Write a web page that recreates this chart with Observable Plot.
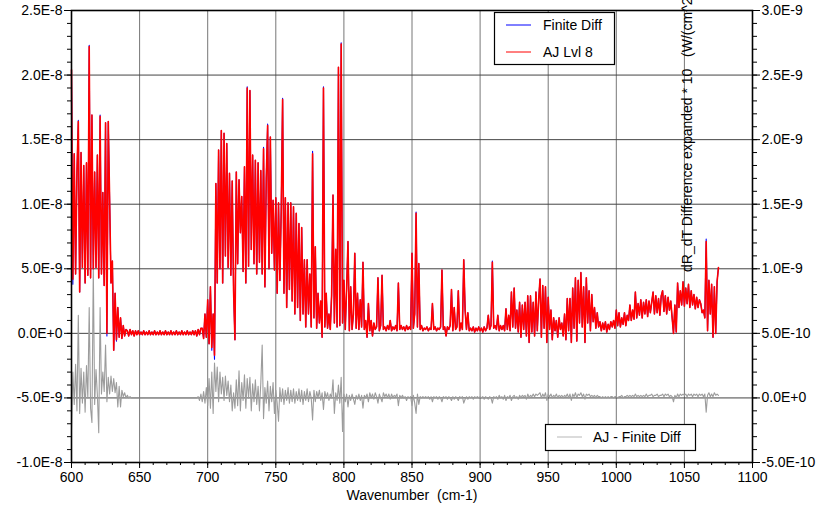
<!DOCTYPE html>
<html><head><meta charset="utf-8">
<script src="https://cdn.jsdelivr.net/npm/d3@7"></script>
<script src="https://cdn.jsdelivr.net/npm/@observablehq/plot@0.6"></script>
<style>body{margin:0;background:#fff;} #chart{width:834px;height:505px;overflow:hidden;}</style>
</head><body><div id="chart"></div>
<script>
// Wavenumber grid (cm-1): first sample and spacing
const wavenumberStart = 600;
const wavenumberStep = 1;

// AJ Lvl 8 (units of 1E-9, left axis)
const ajLvl8 = [
20.4,4.2,13.9,4.6,12.4,16.4,3.2,14.0,5.1,13.0,
3.9,13.2,4.5,22.2,4.3,16.9,5.0,12.5,5.1,13.8,
4.3,16.8,4.6,10.9,3.7,16.3,0,16.4,10.3,3.9,
5.6,-1.3,3.1,-0.5,2.0,-0.3,1.2,-0.4,0.6,-0.2,
0.3,0.2,-0.2,0.3,-0.1,0.2,-0.2,0.2,-0.1,0.2,
-0.1,0.1,-0.1,0.2,-0.1,0.1,-0.1,0.2,-0.1,0.1,
-0.1,0.2,-0.1,0.1,-0.1,0.2,-0.1,0.1,-0.1,0.2,
-0.1,0.1,-0.1,0.2,-0.1,0.1,-0.1,0.2,-0.1,0.1,
-0.1,0.2,-0.1,0.1,-0.1,0.2,-0.1,0.1,-0.1,0.2,
-0.1,0.2,-0.2,0.3,-0.1,0.4,0.4,-0.4,1.5,-0.3,
2.6,-0.8,3.6,-1.1,1.5,-1.7,11.6,3.9,14.2,5.0,
15.7,3.9,15.5,6.0,14.7,5.1,12.4,4.5,11.8,3.3,
-0.5,12.5,5.4,11.9,7.8,10.6,4.8,12.9,3.9,19.0,
5.2,18.8,6.5,13.8,5.4,13.4,4.6,13.2,5.5,12.6,
4.6,14.3,3.6,12.0,16.1,5.0,15.2,6.2,10.3,4.9,
10.5,3.1,10.1,4.1,9.6,18.1,3.1,10.5,2.0,10.1,
3.4,10.1,2.5,9.8,1.5,9.3,2.0,8.5,1.0,8.2,
1.5,5.7,0.5,5.7,1.5,4.6,0.5,13.9,1.2,6.7,
0.4,3.1,0.8,2.5,-0.3,19.0,0.5,3.1,0.4,1.5,
0.3,3.0,10.7,0.8,6.5,0.5,20.6,0.6,22.4,0.8,
4.1,0.3,3.5,7.1,0.2,3.6,0.3,1.5,6.2,0.4,
3.1,0.3,2.6,0.5,5.5,0.3,1.0,-0.3,2.3,0.2,
1.0,-0.2,0.8,0.3,0.5,4.3,0.2,0.6,4.5,0.3,
0.5,0.2,0.6,0.3,1.0,0.2,0.5,0.3,0.6,0.2,
3.9,0.3,0.6,0.3,0.5,0.2,0.6,0.3,0.5,0.3,
6.2,0.4,1.5,9.3,0.5,5.4,0.3,0.6,0.2,0.4,
0.3,0.5,0.2,0.4,0.3,2.3,0.3,0.5,0.2,0.4,
0.3,0.5,4.9,0.3,0.5,-0.2,0.5,0.3,0.6,3.4,
0.2,2.0,0.3,0.5,3.3,0.2,0.8,0.3,5.7,1.8,
0.3,1.6,0.2,0.4,0.2,0.5,0.1,0.4,0.2,0.5,
0.2,0.4,0.1,0.5,0.2,0.4,1.4,0.3,0.6,5.5,
0.4,0.6,0.3,1.4,0.2,0.6,0.3,0.6,0.2,1.9,
0.3,1.4,0.2,3.2,0.5,3.5,0.4,1.8,0.1,2.4,
-0.3,2.2,0.3,2.4,-0.2,2.9,-0.7,2.9,0.1,2.4,
-0.2,3.2,0.2,2.6,4.2,-0.3,3.7,0.4,3.6,-0.7,
2.8,0.3,1.8,-0.5,1.2,0.2,1.0,-0.3,1.2,0.3,
0.8,-0.2,1.5,-0.5,2.7,0.2,2.7,-0.7,3.5,0.4,
4.3,-0.6,4.1,0.8,4.7,0.5,3.6,-0.7,4.3,0.8,
3.3,0.2,3.0,0.9,2.0,0.4,1.6,0.5,0.9,0.2,
0.8,0.3,0.9,0.1,0.7,0.3,0.9,0.5,1.0,0.4,
1.8,0.6,1.6,0.5,1.2,0.7,1.6,0.6,1.4,1.0,
2.2,1.0,1.8,1.1,3.2,1.2,2.3,1.4,2.6,1.2,
2.4,1.5,2.6,1.3,2.5,1.6,2.4,3.2,1.5,2.9,
1.6,2.7,1.4,2.9,3.3,1.7,2.9,1.5,2.8,1.8,
2.5,1.2,0.0,2.2,0.1,3.9,2.0,3.3,2.2,4.0,
2.1,3.5,2.3,3.8,2.0,3.3,2.2,3.0,1.9,2.8,
2.0,2.6,2.3,1.6,1.8,1.2,7.1,0.2,4.1,1.5,
3.8,-0.3,3.6,0.0,4.0,5.1
];

// Finite Diff (units of 1E-9, left axis)
const finiteDiff = [
20.4,3.8,13.9,4.6,12.4,16.5,3.2,14.0,5.1,13.0,
3.9,13.2,4.5,22.3,4.3,16.9,5.0,12.5,5.1,13.8,
4.3,16.9,4.6,10.9,3.7,16.3,-0.2,16.4,10.3,3.9,
5.6,-1.3,3.1,-0.6,2.0,-0.3,1.2,-0.4,0.6,-0.2,
0.3,0.2,-0.2,0.3,-0.1,0.2,-0.2,0.2,-0.1,0.2,
-0.1,0.1,-0.1,0.2,-0.1,0.1,-0.1,0.2,-0.1,0.1,
-0.1,0.2,-0.1,0.1,-0.1,0.2,-0.1,0.1,-0.1,0.2,
-0.1,0.1,-0.1,0.2,-0.1,0.1,-0.1,0.2,-0.1,0.1,
-0.1,0.2,-0.1,0.1,-0.1,0.2,-0.1,0.1,-0.1,0.2,
-0.1,0.2,-0.2,0.3,-0.1,0.4,0.4,-0.4,1.5,-0.3,
2.6,-0.8,3.6,-1.3,1.5,-2.0,11.6,3.9,14.2,5.0,
15.7,3.9,15.5,6.0,14.7,5.1,12.4,4.5,11.8,3.3,
-0.5,12.5,5.4,11.9,7.8,10.6,4.8,12.9,3.9,19.1,
5.2,18.8,6.5,13.8,5.4,13.4,4.6,13.2,5.5,12.6,
4.6,14.4,3.6,12.0,16.2,5.0,15.2,6.2,10.3,4.9,
10.5,3.1,10.1,4.1,9.6,18.2,3.1,10.5,2.0,10.1,
3.4,10.1,2.5,9.8,1.5,9.3,2.0,8.5,1.0,8.2,
1.5,5.7,0.5,5.7,1.5,4.6,0.5,14.1,1.2,6.7,
0.4,3.1,0.8,2.5,-0.3,19.1,0.5,3.1,0.4,1.5,
0.3,3.0,10.7,0.8,6.5,0.5,20.6,0.6,22.5,0.8,
4.1,0.3,3.5,7.1,0.2,3.6,0.3,1.5,6.2,0.4,
3.1,0.3,2.6,0.5,5.5,0.3,1.0,-0.3,2.3,0.2,
1.0,-0.2,0.8,0.3,0.5,4.3,0.2,0.6,4.5,0.3,
0.5,0.2,0.6,0.3,1.0,0.2,0.5,0.3,0.6,0.2,
3.9,0.3,0.6,0.3,0.5,0.2,0.6,0.3,0.5,0.3,
6.2,0.4,1.5,9.4,0.5,5.4,0.3,0.6,0.2,0.4,
0.3,0.5,0.2,0.4,0.3,2.3,0.3,0.5,0.2,0.4,
0.3,0.5,4.9,0.3,0.5,-0.2,0.5,0.3,0.6,3.4,
0.2,2.0,0.3,0.5,3.3,0.2,0.8,0.3,5.7,1.8,
0.3,1.6,0.2,0.4,0.2,0.5,0.1,0.4,0.2,0.5,
0.2,0.4,0.1,0.5,0.2,0.4,1.4,0.3,0.6,5.6,
0.4,0.6,0.3,1.4,0.2,0.6,0.3,0.6,0.2,1.9,
0.3,1.4,0.2,3.2,0.5,3.5,0.4,1.8,0.1,2.4,
-0.3,2.2,0.3,2.4,-0.2,2.9,-0.7,2.9,0.1,2.4,
-0.2,3.2,0.2,2.6,4.2,-0.3,3.7,0.4,3.6,-0.7,
2.8,0.3,1.8,-0.5,1.2,0.2,1.0,-0.3,1.2,0.3,
0.8,-0.2,1.5,-0.5,2.7,0.2,2.7,-0.7,3.5,0.4,
4.3,-0.6,4.1,0.8,4.7,0.5,3.6,-0.7,4.3,0.8,
3.3,0.2,3.0,0.9,2.0,0.4,1.6,0.5,0.9,0.2,
0.8,0.3,0.9,0.1,0.7,0.3,0.9,0.5,1.0,0.4,
1.8,0.6,1.6,0.5,1.2,0.7,1.6,0.6,1.4,1.0,
2.2,1.0,1.8,1.1,3.2,1.2,2.3,1.4,2.6,1.2,
2.4,1.5,2.6,1.3,2.5,1.6,2.4,3.2,1.5,2.9,
1.6,2.7,1.4,2.9,3.3,1.7,2.9,1.5,2.8,1.8,
2.5,1.2,0.0,2.2,0.1,3.9,2.0,3.3,2.2,4.0,
2.1,3.5,2.3,3.8,2.0,3.3,2.2,3.0,1.9,2.8,
2.0,2.6,2.3,1.6,1.8,1.2,7.3,0.2,4.1,1.5,
3.8,-0.3,3.6,0.0,4.0,5.1
];

// AJ - Finite Diff (units of 1E-10, right axis)
const ajMinusFiniteDiff = [
-2.5,2.0,-0.5,2.6,-1.0,6.4,-1.2,2.3,-0.4,2.0,
-1.1,2.5,0.0,7.0,-0.8,-1.9,10.1,-0.5,2.2,0.2,
-2.7,7.0,0.3,2.0,0.5,4.1,-0.3,1.6,0.3,1.7,
0.5,1.5,0.4,1.2,-0.7,0.9,-0.7,0.6,0.1,0.4,
0.0,0.2,0.0,0.1,0,0,0,0,0,0,
0,0,0,0,0,0,0,0,0,0,
0,0,0,0,0,0,0,0,0,0,
0,0,0,0,0,0,0,0,0,0,
0,0,0,0,0,0,0,0,0,0,
0,0,0,0.1,-0.2,0.3,-0.3,0.5,-0.4,0.8,
-0.6,1.5,-0.8,2.0,-1.2,2.7,0.5,2.4,-0.3,2.0,
0.3,1.6,-0.2,1.7,0.2,1.3,-0.3,1.0,-1.0,0.4,
-0.8,1.4,-0.6,2.1,-1.0,1.2,-0.2,1.8,-0.8,1.5,
0.0,1.6,-1.0,1.1,-0.3,1.4,-0.5,0.9,-1.0,1.2,
4.1,-1.6,0.8,-0.4,1.3,-1.0,0.9,-0.3,1.2,-1.2,
0.6,-0.4,-1.8,0.8,-0.3,0.7,-0.5,0.6,-0.2,0.8,
-0.4,0.6,-0.3,0.7,-0.4,0.5,-0.2,0.7,-0.3,0.6,
-0.5,0.5,-0.2,0.7,-0.3,0.5,0.0,-1.7,0.6,-0.3,
0.5,0.0,0.6,-0.2,0.4,-0.9,0.5,0.0,0.4,-0.2,
0.3,0.0,1.4,-1.2,0.4,-0.2,1.0,-0.4,1.6,-2.6,
0.3,-0.3,0.3,-0.7,0.2,-0.2,0.3,-0.1,-0.5,0.2,
-0.1,0.3,-0.2,0.2,-0.8,0.2,0.0,0.3,-0.3,0.4,
0.0,0.3,-0.1,0.4,0.1,-0.4,0.3,0.0,-0.3,0.4,
0.1,0.3,0.0,0.3,-0.1,0.3,0.0,0.2,0.1,0.3,
-0.6,0.2,0.0,0.2,0.0,0.1,-0.2,0.1,0.0,0.1,
-0.6,0.2,-0.4,-1.2,0.3,-0.5,0.1,0.0,0.1,0.0,
0.1,0.0,0.1,-0.1,0.1,-0.3,0.1,0.0,0.1,-0.1,
0.1,0.0,-0.3,0.1,0.0,0.1,-0.1,0.1,0.0,-0.2,
0.1,-0.1,0.1,0.0,-0.2,0.1,0.0,0.1,-0.4,-0.1,
0.1,-0.1,0.1,0.0,0.1,-0.1,0.1,0.0,0.1,0.0,
0.1,0.0,0.1,-0.1,0.1,0.0,-0.1,0.1,0.0,-0.4,
0.1,0.0,0.1,-0.1,0.2,0.0,0.1,-0.1,0.2,-0.2,
0.1,0.0,0.2,-0.2,0.1,0.2,0.0,0.1,-0.1,0.2,
0.0,0.2,0.1,0.2,-0.1,0.3,0.0,0.2,0.1,0.3,
0.1,0.3,0.2,0.3,0.4,0.0,0.3,0.1,0.4,-0.2,
0.3,0.1,0.3,0.0,0.2,0.1,0.3,0.0,0.2,0.1,
0.2,0.0,0.2,0.1,0.3,0.0,0.3,-0.2,0.3,0.1,
0.4,0.0,0.3,0.2,0.4,0.1,0.3,-0.1,0.3,0.2,
0.3,0.1,0.2,0.1,0.2,0.0,0.2,0.1,0.1,0.0,
0.1,0.0,0.1,0.0,0.1,0.0,0.1,0.1,0.0,0.1,
0.1,0.0,0.1,0.1,0.2,0.0,0.1,0.1,0.2,0.1,
0.2,0.1,0.2,0.1,0.3,0.1,0.2,0.1,0.2,0.1,
0.2,0.1,0.3,0.1,0.2,0.2,0.3,0.1,0.2,0.2,
0.3,0.1,0.2,0.2,0.3,0.1,0.3,0.2,0.3,0.1,
0.2,0.1,-0.3,0.2,0.0,0.3,0.1,0.3,0.2,0.3,
0.2,0.3,0.1,0.3,0.2,0.3,0.1,0.3,0.2,0.3,
0.1,0.3,0.2,0.3,0.1,0.3,-1.1,0.2,0.4,0.1,
0.3,0.1,0.4,0.2,0.3,0.2
];

// Axis ticks
const xMajorTicks = [600,650,700,750,800,850,900,950,1000,1050,1100];
const xMinorTicks = d3.range(600, 1101, 10);
const yMajorTicks = [-10,-5,0,5,10,15,20,25];      // left axis, units of 1E-9
const yMinorTicks = d3.range(-10, 26, 1);
const rightAxisOffset = 5; // right-axis zero sits at -5E-9 on left axis; 1E-10 right = 1E-9 left

const xLabel = "Wavenumber\u00a0 (cm-1)";
const rightLabel = "dR_dT Difference expanded * 10\u00a0\u00a0\u00a0(W/(cm^2 sr cm-1))";
const legendTop = ["Finite Diff", "AJ Lvl 8"];
const legendBottom = "AJ - Finite Diff";

const rows = ajLvl8.map((v, i) => ({
  wn: wavenumberStart + i * wavenumberStep,
  aj: v,
  fd: finiteDiff[i],
  diff: ajMinusFiniteDiff[i] - rightAxisOffset
}));

const fmtLeft = d => (d * 1e-9).toExponential(1).toUpperCase();
const fmtRight = d => ((d + rightAxisOffset) * 1e-10).toExponential(1).toUpperCase();
const blank = () => "";

const plot = Plot.plot({
  width: 834, height: 505,
  marginLeft: 71, marginRight: 82, marginTop: 10, marginBottom: 43,
  style: {fontFamily: '"Liberation Sans", Arial, sans-serif', fontSize: "14px", color: "black", background: "white"},
  x: {domain: [600, 1100]},
  y: {domain: [-10, 25]},
  marks: [
    Plot.gridX(xMajorTicks, {stroke: "#777", strokeOpacity: 1}),
    Plot.gridY(yMajorTicks, {stroke: "#444", strokeOpacity: 1}),
    Plot.line(rows, {x: "wn", y: "diff", stroke: "#9c9c9c", strokeWidth: 1.1}),
    Plot.line(rows, {x: "wn", y: "fd", stroke: "#0000ff", strokeWidth: 1.1}),
    Plot.line(rows, {x: "wn", y: "aj", stroke: "#ff0000", strokeWidth: 1.6}),
    Plot.frame({stroke: "black", strokeWidth: 1.6}),
    Plot.axisX(xMinorTicks, {tickSize: 3, tickFormat: blank, label: null}),
    Plot.axisX(xMajorTicks, {tickSize: 6, tickPadding: 4, tickFormat: d => String(d), label: null}),
    Plot.axisY(yMinorTicks, {anchor: "left", tickSize: 4, tickFormat: blank, label: null}),
    Plot.axisY(yMajorTicks, {anchor: "left", tickSize: 7, tickPadding: 2, tickFormat: fmtLeft, label: null}),
    Plot.axisY(yMinorTicks, {anchor: "right", tickSize: 4, tickFormat: blank, label: null}),
    Plot.axisY(yMajorTicks, {anchor: "right", tickSize: 7, tickPadding: 2, tickFormat: fmtRight, label: null}),
    Plot.text([xLabel], {frameAnchor: "bottom", lineAnchor: "middle", dy: 33, text: d => d, fontSize: 14})
  ]
});

document.getElementById("chart").appendChild(plot);

// Legends and rotated right-axis title
const svg = d3.select(plot);
const font = '"Liberation Sans", Arial, sans-serif';
const g1 = svg.append("g").attr("text-anchor", "start");
g1.append("rect").attr("x", 494.5).attr("y", 12.5).attr("width", 120).attr("height", 52)
  .attr("fill", "white").attr("stroke", "black").attr("stroke-width", 1.2);
[["#0000ff", 25], ["#ff0000", 52]].forEach(([c, y], i) => {
  g1.append("line").attr("x1", 506).attr("x2", 531).attr("y1", y).attr("y2", y).attr("stroke", c).attr("stroke-width", 1);
  g1.append("text").attr("x", 543).attr("y", y).attr("dy", "0.35em").attr("text-anchor", "start")
    .attr("font-family", font).attr("font-size", 14).attr("fill", "black").text(legendTop[i]);
});
const g2 = svg.append("g").attr("text-anchor", "start");
g2.append("rect").attr("x", 545.5).attr("y", 424.5).attr("width", 150).attr("height", 26)
  .attr("fill", "white").attr("stroke", "black").attr("stroke-width", 1.2);
g2.append("line").attr("x1", 557).attr("x2", 582).attr("y1", 437).attr("y2", 437).attr("stroke", "#c4c4c4").attr("stroke-width", 1.2);
g2.append("text").attr("x", 593).attr("y", 437).attr("dy", "0.35em").attr("text-anchor", "start")
  .attr("font-family", font).attr("font-size", 14).attr("fill", "black").text(legendBottom);

svg.append("text").attr("transform", "translate(692,272) rotate(-90)").attr("text-anchor", "start")
  .attr("font-family", font).attr("font-size", 14).attr("fill", "black").text(rightLabel);
</script>
</body></html>
